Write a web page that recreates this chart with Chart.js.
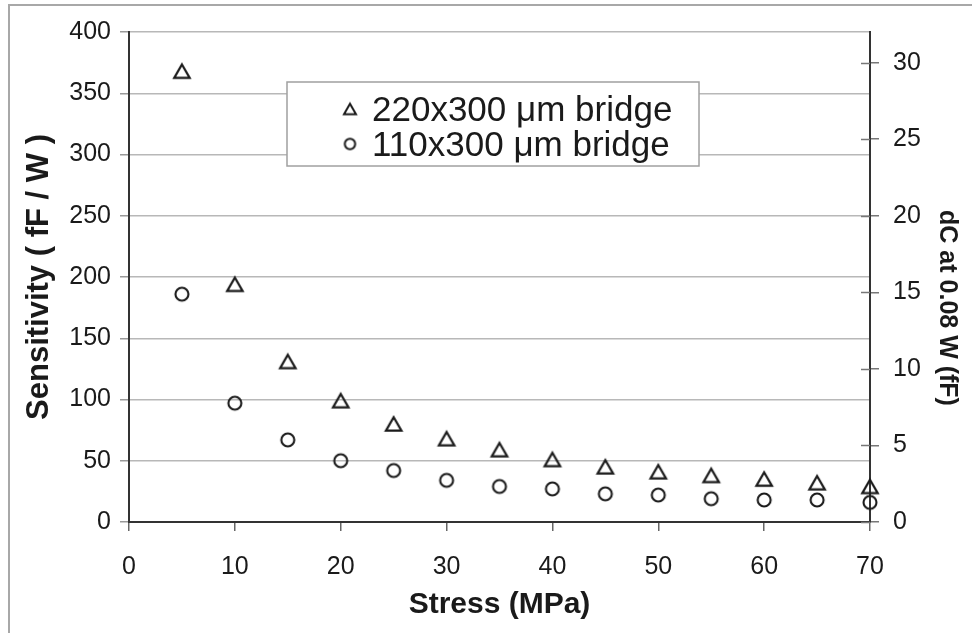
<!DOCTYPE html>
<html>
<head>
<meta charset="utf-8">
<script src="https://cdn.jsdelivr.net/npm/chart.js@4.4.1/dist/chart.umd.min.js"></script>
<style>
  html, body { margin: 0; padding: 0; background: #fff; }
  #wrap { width: 972px; height: 633px; position: relative; }
</style>
</head>
<body>
<div id="wrap"><canvas id="c" width="972" height="633"></canvas></div>
<script>
// Stress (MPa) at which each bridge was measured
const stressMPa = [5, 10, 15, 20, 25, 30, 35, 40, 45, 50, 55, 60, 65, 70];
// Sensitivity (fF / W) of each bridge
const sens220 = [368, 194, 131, 99, 80, 68, 59, 51, 45, 41, 38, 35, 32, 29];
const sens110 = [186, 97, 67, 50, 42, 34, 29, 27, 23, 22, 19, 18, 18, 16];
const seriesNames = ['220x300 \u03bcm bridge', '110x300 \u03bcm bridge'];

// Axis ticks
const stressTicks = [0, 10, 20, 30, 40, 50, 60, 70];
const sensTicks = [0, 50, 100, 150, 200, 250, 300, 350, 400];
const dcTicks = [0, 5, 10, 15, 20, 25, 30];
const powerW = 0.08; // right axis: capacitance change at 0.08 W
const dcTitle = 'dC at 0.08 W (fF)';

const FONT = "'Liberation Sans', Arial, sans-serif";
const INK = '#1a1a1a';

// Open triangle marker whose bounding box is centred on the point
function triangleMarker(side, lw) {
  const h = side * Math.sqrt(3) / 2;
  const w = Math.ceil(side + lw * 2 + 2);
  const ht = Math.ceil(h + lw * 2 + 2);
  const cv = document.createElement('canvas');
  cv.width = w; cv.height = ht;
  const g = cv.getContext('2d');
  g.lineWidth = lw; g.strokeStyle = INK; g.lineJoin = 'miter';
  const cx = w / 2, cy = ht / 2;
  g.beginPath();
  g.moveTo(cx, cy - h / 2);
  g.lineTo(cx + side / 2, cy + h / 2);
  g.lineTo(cx - side / 2, cy + h / 2);
  g.closePath();
  g.stroke();
  return cv;
}
function circleMarker(r, lw) {
  const s = Math.ceil(2 * r + lw * 2 + 2);
  const cv = document.createElement('canvas');
  cv.width = s; cv.height = s;
  const g = cv.getContext('2d');
  g.lineWidth = lw; g.strokeStyle = INK;
  g.beginPath(); g.arc(s / 2, s / 2, r, 0, Math.PI * 2); g.stroke();
  return cv;
}

const triData = triangleMarker(15.5, 2.2);
const cirData = circleMarker(6.5, 2.1);
const triLegend = triangleMarker(12, 2);
const cirLegend = circleMarker(5.2, 2);

// White page with the grey frame on the left and top
const frame = {
  id: 'frame',
  beforeDraw(chart) {
    const ctx = chart.ctx;
    ctx.save();
    ctx.fillStyle = '#fff';
    ctx.fillRect(0, 0, chart.width, chart.height);
    ctx.strokeStyle = '#a8a8a8';
    ctx.lineWidth = 2;
    ctx.beginPath();
    ctx.moveTo(9, chart.height);
    ctx.lineTo(9, 5);
    ctx.lineTo(chart.width, 5);
    ctx.stroke();
    ctx.restore();
  }
};

// Right-axis ticks also reach into the plot area; right-axis title
const rightAxisExtras = {
  id: 'rightAxisExtras',
  afterDraw(chart) {
    const s = chart.scales.y2, a = chart.chartArea, ctx = chart.ctx;
    ctx.save();
    ctx.strokeStyle = '#777';
    ctx.lineWidth = 1.5;
    s.ticks.forEach(t => {
      const y = Math.round(s.getPixelForValue(t.value)) + 0.5;
      ctx.beginPath();
      ctx.moveTo(a.right - 9, y);
      ctx.lineTo(a.right, y);
      ctx.stroke();
    });
    ctx.translate(947, 308);
    ctx.rotate(Math.PI / 2);
    ctx.font = 'bold 25px ' + FONT;
    ctx.fillStyle = INK;
    ctx.textAlign = 'center';
    ctx.textBaseline = 'middle';
    ctx.fillText(dcTitle, 0, 0);
    ctx.restore();
  }
};

// Boxed legend inside the plot
const boxLegend = {
  id: 'boxLegend',
  afterDraw(chart) {
    const ctx = chart.ctx;
    const box = { x: 287, y: 82, w: 412, h: 84 };
    ctx.save();
    ctx.fillStyle = '#fff';
    ctx.fillRect(box.x, box.y, box.w, box.h);
    ctx.strokeStyle = '#a0a0a0';
    ctx.lineWidth = 1.5;
    ctx.strokeRect(box.x, box.y, box.w, box.h);
    const marks = [triLegend, cirLegend];
    ctx.font = '35px ' + FONT;
    ctx.fillStyle = INK;
    ctx.textBaseline = 'middle';
    ctx.textAlign = 'left';
    chart.data.datasets.forEach((ds, i) => {
      const cy = box.y + 27 + i * 35;
      const m = marks[i];
      ctx.drawImage(m, 350 - m.width / 2, cy - m.height / 2);
      ctx.fillText(ds.label, 372, cy + 2);
    });
    ctx.restore();
  }
};

const toPoints = ys => stressMPa.map((x, i) => ({ x, y: ys[i] }));
const fixTicks = list => scale => { scale.ticks = list.map(v => ({ value: v })); };

new Chart(document.getElementById('c'), {
  type: 'scatter',
  data: {
    datasets: [
      { label: seriesNames[0], data: toPoints(sens220), pointStyle: triData,
        pointRadius: 8, borderColor: INK, backgroundColor: 'transparent', clip: false, yAxisID: 'y' },
      { label: seriesNames[1], data: toPoints(sens110), pointStyle: cirData,
        pointRadius: 7, borderColor: INK, backgroundColor: 'transparent', clip: false, yAxisID: 'y' }
    ]
  },
  options: {
    responsive: false,
    animation: false,
    devicePixelRatio: 1,
    layout: { padding: { top: 32, left: 0, right: 0, bottom: 0 } },
    plugins: { legend: { display: false }, tooltip: { enabled: false } },
    scales: {
      x: {
        type: 'linear', min: 0, max: 70,
        afterBuildTicks: fixTicks(stressTicks),
        afterFit: s => { s.height = 111; },
        border: { color: '#333', width: 2 },
        grid: { drawOnChartArea: false, drawTicks: true, tickLength: 9, tickColor: '#666', lineWidth: 1.5 },
        ticks: { padding: 21, color: INK, font: { family: FONT, size: 25 }, maxRotation: 0 },
        title: { display: true, text: 'Stress (MPa)', color: INK,
          font: { family: FONT, size: 30, weight: 'bold' }, padding: { top: 0, bottom: 10 } }
      },
      y: {
        type: 'linear', position: 'left', min: 0, max: 400,
        afterBuildTicks: fixTicks(sensTicks),
        afterFit: s => { s.width = 129; },
        border: { color: '#333', width: 2 },
        grid: { color: '#b8b8b8', lineWidth: 1.5, tickLength: 9, tickColor: '#999' },
        ticks: { padding: 9, color: INK, font: { family: FONT, size: 25 } },
        title: { display: true, text: 'Sensitivity ( fF / W )', color: INK,
          font: { family: FONT, size: 31, weight: 'bold' }, padding: { top: 21, bottom: 0 } }
      },
      y2: {
        type: 'linear', position: 'right', min: 0, max: 400 * powerW,
        afterBuildTicks: fixTicks(dcTicks),
        afterFit: s => { s.width = 102; },
        border: { color: '#333', width: 2 },
        grid: { drawOnChartArea: false, tickLength: 9, tickColor: '#777', lineWidth: 1.5 },
        ticks: { padding: 14, color: INK, font: { family: FONT, size: 25 } },
        title: { display: false }
      }
    }
  },
  plugins: [frame, rightAxisExtras, boxLegend]
});
</script>
</body>
</html>
